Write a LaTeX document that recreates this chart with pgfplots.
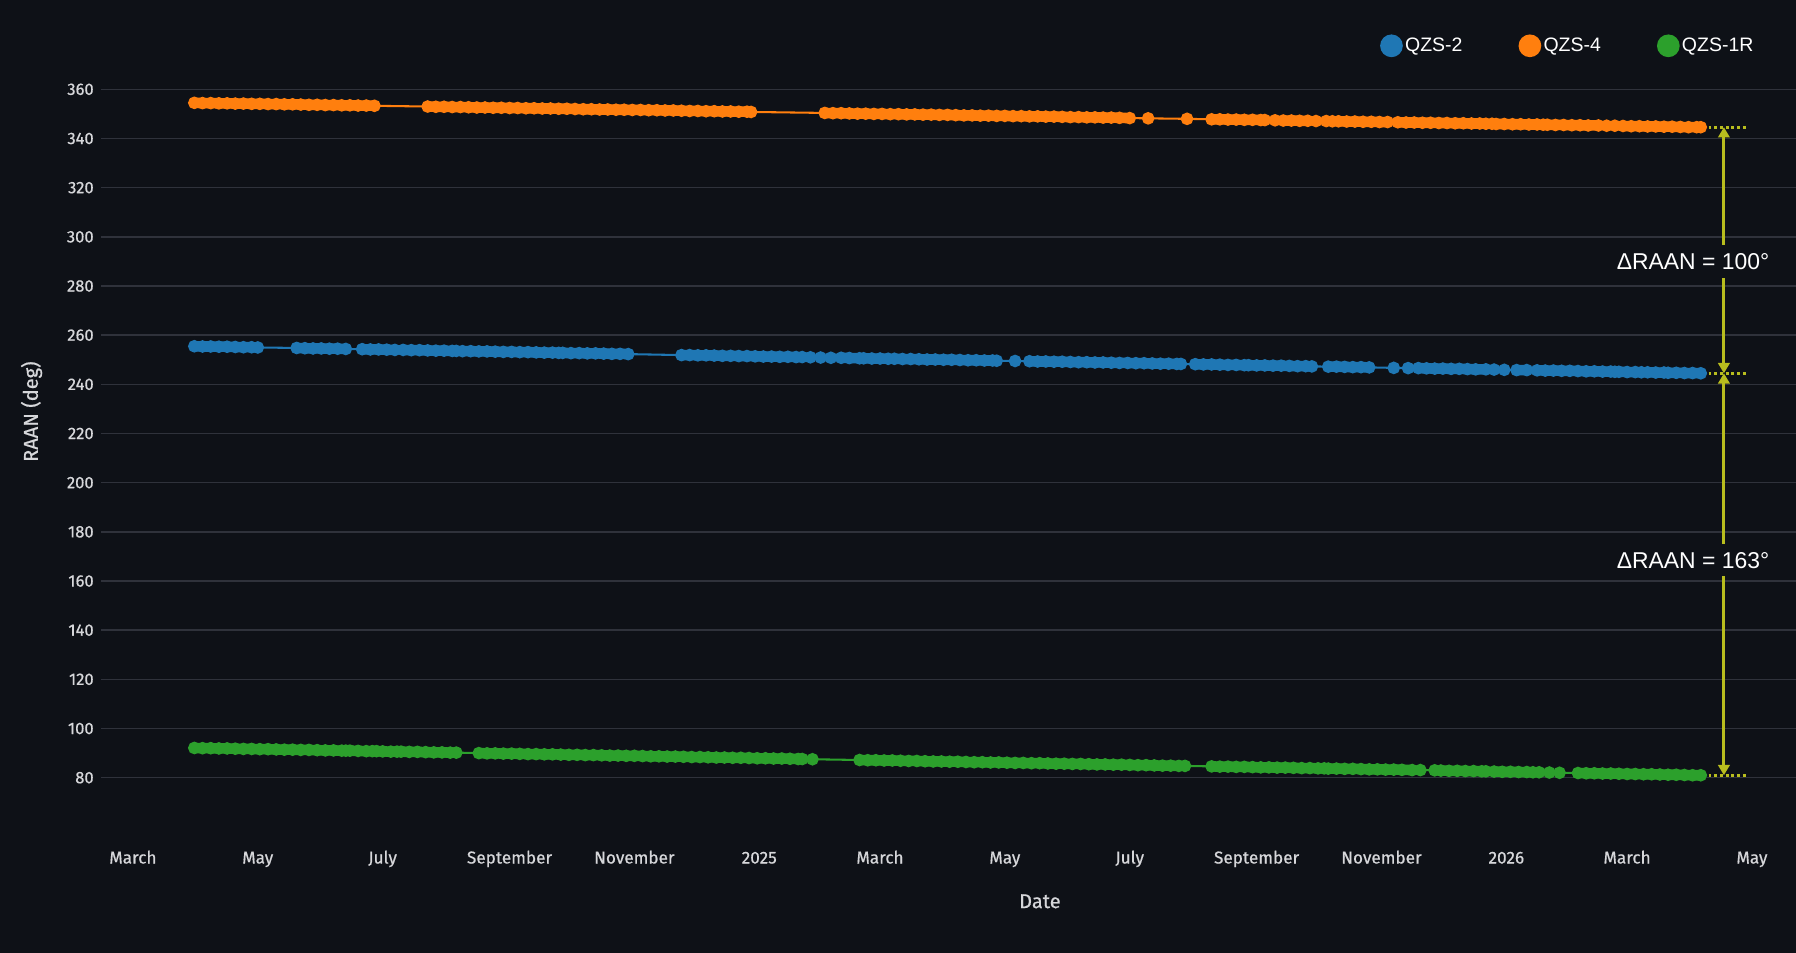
\documentclass[border=0pt]{standalone}
\usepackage{fontspec}
\setmainfont{Liberation Sans}
\newfontfamily\tickfont[FakeBold=0.6]{Fira Sans}
\usepackage{pgfplots}
\usepackage{pgfplotstable}
\pgfplotsset{compat=1.18}
\usetikzlibrary{arrows.meta}
\definecolor{bg}{HTML}{0E1117}
\definecolor{gridc}{HTML}{2F323B}
\definecolor{tickc}{HTML}{D6D7DA}
\definecolor{qblue}{HTML}{1F77B4}
\definecolor{qorange}{HTML}{FF7F0E}
\definecolor{qgreen}{HTML}{2CA02C}
\definecolor{annot}{HTML}{B8BD1E}
% day = days since 2024-03-01 ; v = RAAN (deg) ; "nan nan" = gap in the data
\pgfplotstableread{
d v
30 255.5
34 255.4
38 255.4
42 255.3
46 255.3
50 255.2
54 255.1
58 255.1
61 255.0
nan nan
80 254.8
84 254.7
88 254.6
92 254.6
96 254.5
100 254.5
104 254.4
nan nan
112 254.3
116 254.2
120 254.2
124 254.1
128 254.0
nan nan
132 254.0
136 253.9
140 253.9
144 253.8
148 253.7
152 253.7
156 253.6
158 253.6
nan nan
161 253.5
165 253.5
169 253.4
173 253.4
177 253.3
181 253.2
185 253.2
189 253.1
193 253.1
197 253.0
201 252.9
205 252.9
208 252.8
nan nan
210 252.8
214 252.7
218 252.7
222 252.6
226 252.6
230 252.5
234 252.4
238 252.4
242 252.3
nan nan
268 251.9
272 251.9
276 251.8
280 251.8
284 251.7
288 251.6
292 251.6
296 251.5
300 251.5
304 251.4
308 251.3
312 251.3
316 251.2
320 251.2
324 251.1
327 251.1
nan nan
331 251.0
nan nan
336 250.9
nan nan
341 250.8
nan nan
346 250.8
350 250.7
355 250.6
nan nan
357 250.6
361 250.5
365 250.5
369 250.4
nan nan
372 250.4
376 250.3
380 250.3
384 250.2
388 250.1
392 250.1
396 250.0
400 250.0
404 249.9
408 249.8
412 249.8
416 249.7
420 249.7
422 249.6
nan nan
431 249.5
nan nan
438 249.4
442 249.3
446 249.3
450 249.2
454 249.2
458 249.1
462 249.0
466 249.0
470 248.9
474 248.9
478 248.8
482 248.7
486 248.7
490 248.6
494 248.6
498 248.5
502 248.4
506 248.4
510 248.3
512 248.3
nan nan
519 248.2
523 248.1
527 248.1
531 248.0
535 247.9
539 247.9
543 247.8
nan nan
545 247.8
549 247.7
553 247.7
557 247.6
561 247.6
565 247.5
569 247.4
573 247.4
576 247.3
nan nan
584 247.2
588 247.2
592 247.1
596 247.0
600 247.0
604 246.9
nan nan
616 246.7
nan nan
623 246.6
nan nan
628 246.6
632 246.5
636 246.4
640 246.4
644 246.3
648 246.3
652 246.2
656 246.1
661 246.1
nan nan
665 246.0
nan nan
670 245.9
nan nan
676 245.8
681 245.8
nan nan
686 245.7
690 245.6
694 245.6
698 245.5
702 245.5
706 245.4
710 245.3
714 245.3
718 245.2
722 245.2
724 245.1
nan nan
726 245.1
730 245.0
734 245.0
737 244.9
nan nan
740 244.9
744 244.8
748 244.8
nan nan
750 244.7
754 244.7
758 244.6
762 244.6
766 244.5
}\qzstwo
\pgfplotstableread{
d v
30 354.5
34 354.4
38 354.4
42 354.3
46 354.3
50 354.2
54 354.2
58 354.1
62 354.1
66 354.0
70 354.0
74 353.9
78 353.9
82 353.8
86 353.7
90 353.7
94 353.6
98 353.6
102 353.5
106 353.5
110 353.4
114 353.4
118 353.3
nan nan
144 353.0
148 352.9
152 352.9
156 352.8
160 352.8
164 352.7
168 352.6
172 352.6
176 352.5
180 352.5
184 352.4
188 352.4
192 352.3
196 352.3
200 352.2
204 352.2
208 352.1
212 352.1
216 352.0
220 351.9
224 351.9
228 351.8
232 351.8
236 351.7
240 351.7
244 351.6
248 351.6
252 351.5
256 351.5
260 351.4
264 351.4
268 351.3
272 351.2
276 351.2
280 351.1
284 351.1
288 351.0
292 351.0
296 350.9
300 350.9
302 350.8
nan nan
338 350.4
342 350.3
346 350.3
350 350.2
354 350.1
358 350.1
362 350.0
366 350.0
370 349.9
374 349.9
378 349.8
382 349.8
386 349.7
390 349.7
394 349.6
398 349.6
402 349.5
406 349.4
410 349.4
414 349.3
418 349.3
422 349.2
426 349.2
430 349.1
434 349.1
438 349.0
442 349.0
446 348.9
450 348.9
454 348.8
458 348.7
462 348.7
466 348.6
470 348.6
474 348.5
478 348.5
482 348.4
487 348.3
nan nan
496 348.2
nan nan
515 348.0
nan nan
527 347.8
531 347.8
535 347.7
539 347.7
543 347.6
547 347.6
551 347.5
553 347.5
nan nan
558 347.4
nan nan
562 347.3
566 347.3
570 347.2
574 347.2
nan nan
578 347.1
nan nan
583 347.1
nan nan
586 347.0
nan nan
589 347.0
593 346.9
597 346.9
601 346.8
605 346.8
609 346.7
613 346.7
nan nan
618 346.6
622 346.5
626 346.5
630 346.4
634 346.4
638 346.3
642 346.3
646 346.2
650 346.2
654 346.1
658 346.1
661 346.0
nan nan
664 346.0
nan nan
666 345.9
670 345.9
674 345.8
678 345.8
682 345.7
686 345.7
nan nan
689 345.6
nan nan
691 345.6
695 345.5
699 345.5
703 345.4
707 345.4
711 345.3
716 345.3
nan nan
720 345.2
nan nan
724 345.2
nan nan
728 345.1
732 345.0
736 345.0
740 344.9
744 344.9
748 344.8
752 344.8
756 344.7
760 344.6
764 344.6
766 344.6
}\qzsfour
\pgfplotstableread{
d v
30 92.1
34 92.0
38 92.0
42 91.9
46 91.9
50 91.8
54 91.7
58 91.7
62 91.6
66 91.6
70 91.5
74 91.4
78 91.4
82 91.3
86 91.3
90 91.2
94 91.1
98 91.1
102 91.0
104 91.0
nan nan
106 91.0
110 90.9
114 90.8
117 90.8
nan nan
119 90.8
122 90.7
126 90.6
129 90.6
nan nan
131 90.6
135 90.5
139 90.5
143 90.4
147 90.3
151 90.3
155 90.2
158 90.2
nan nan
169 90.0
173 89.9
177 89.9
181 89.8
185 89.8
189 89.7
193 89.6
197 89.6
201 89.5
205 89.5
209 89.4
213 89.3
217 89.3
221 89.2
225 89.2
229 89.1
233 89.0
237 89.0
241 88.9
245 88.9
249 88.8
253 88.7
257 88.7
261 88.6
265 88.6
269 88.5
273 88.4
277 88.4
281 88.3
285 88.2
289 88.2
293 88.1
297 88.1
301 88.0
305 87.9
309 87.9
313 87.8
317 87.8
321 87.7
325 87.6
327 87.6
nan nan
332 87.5
nan nan
355 87.2
359 87.1
363 87.1
367 87.0
371 87.0
375 86.9
379 86.8
383 86.8
387 86.7
391 86.6
395 86.6
399 86.5
403 86.5
407 86.4
411 86.3
415 86.3
419 86.2
423 86.2
427 86.1
431 86.0
435 86.0
439 85.9
443 85.9
447 85.8
451 85.7
455 85.7
459 85.6
463 85.6
467 85.5
471 85.4
475 85.4
479 85.3
483 85.3
487 85.2
491 85.1
495 85.1
499 85.0
503 84.9
507 84.9
511 84.8
514 84.8
nan nan
527 84.6
531 84.5
535 84.5
539 84.4
543 84.4
547 84.3
551 84.2
555 84.2
559 84.1
563 84.1
567 84.0
571 83.9
575 83.9
579 83.8
582 83.8
nan nan
584 83.7
588 83.7
592 83.6
596 83.6
600 83.5
604 83.4
608 83.4
612 83.3
616 83.3
620 83.2
625 83.1
nan nan
629 83.1
nan nan
636 83.0
nan nan
639 82.9
643 82.8
647 82.8
651 82.7
655 82.7
659 82.6
661 82.6
nan nan
665 82.5
669 82.4
673 82.4
677 82.3
681 82.3
684 82.2
nan nan
687 82.2
nan nan
692 82.1
nan nan
697 82.0
nan nan
706 81.9
710 81.8
714 81.8
718 81.7
722 81.7
726 81.6
730 81.5
734 81.5
738 81.4
742 81.4
746 81.3
750 81.2
754 81.2
758 81.1
762 81.0
766 81.0
}\qzsonr
\pgfplotsset{
  band/.style={#1, line width=9.2pt, line cap=round, line join=round, no marks, unbounded coords=jump, forget plot},
  pts/.style={#1, line width=1.8pt, mark=*, mark size=4.6pt, mark options={solid, draw=none, fill=#1},
    unbounded coords=discard, legend image code/.code={\fill[#1] (0pt,0pt) circle (9pt);}},
}
\begin{document}
\begin{tikzpicture}
\fill[bg] (0,0) rectangle (1568pt,832pt);
\begin{axis}[
  at={(88pt,110.1pt)}, anchor=south west,
  width=1480pt, height=643.9pt, scale only axis,
  xmin=-15.7, xmax=812.5, ymin=60, ymax=360,
  axis line style={draw=none},
  major tick length=0pt,
  ymajorgrids, grid style={gridc, line width=1.3pt},
  ytick={80,100,...,360},
  xtick={0,61,122,184,245,306,365,426,487,549,610,671,730,791},
  xticklabels={March,May,July,September,November,2025,March,May,July,September,November,2026,March,May},
  ticklabel style={font=\tickfont\fontsize{15}{18}\selectfont, text=tickc},
  /pgf/number format/assume math mode=true,
  yticklabel style={anchor=east, inner sep=0pt, xshift=-6pt, font=\tickfont\fontsize{14.5}{18}\selectfont},
  xticklabel style={anchor=base, inner sep=0pt, yshift=-32pt},
  xlabel={Date}, ylabel={RAAN (deg)},
  xlabel style={at={([yshift=-65pt]axis description cs:0.554,0)}, anchor=center, font=\tickfont\fontsize{17.5}{20}\selectfont, text=tickc},
  ylabel style={at={([xshift=-60.5pt]axis description cs:0,0.563)}, anchor=center, font=\tickfont\fontsize{17.5}{20}\selectfont, text=tickc},
  legend style={at={(0.9784,1)}, anchor=east, yshift=38pt, draw=none, fill=none, text=white,
    font=\fontsize{17}{20}\selectfont, /tikz/every even column/.append style={column sep=47pt}},
  legend columns=3,
  legend cell align=left,
]
\addplot[band=qblue] table[x=d, y=v] {\qzstwo};
\addplot[pts=qblue] table[x=d, y=v] {\qzstwo};
\addlegendentry{QZS-2}
\addplot[band=qorange] table[x=d, y=v] {\qzsfour};
\addplot[pts=qorange] table[x=d, y=v] {\qzsfour};
\addlegendentry{QZS-4}
\addplot[band=qgreen] table[x=d, y=v] {\qzsonr};
\addplot[pts=qgreen] table[x=d, y=v] {\qzsonr};
\addlegendentry{QZS-1R}
% annotations
\addplot[annot, line width=2.5pt, dash pattern=on 2.5pt off 2.5pt, forget plot] coordinates {(767,344.6)(788,344.6)};
\addplot[annot, line width=2.5pt, dash pattern=on 2.5pt off 2.5pt, forget plot] coordinates {(767,244.5)(788,244.5)};
\addplot[annot, line width=2.5pt, dash pattern=on 2.5pt off 2.5pt, forget plot] coordinates {(767,81.0)(788,81.0)};
\addplot[annot, line width=2.6pt, {Triangle[width=10pt,length=9pt]}-{Triangle[width=10pt,length=9pt]}, forget plot] coordinates {(777.3,244.5)(777.3,344.6)};
\addplot[annot, line width=2.6pt, {Triangle[width=10pt,length=9pt]}-{Triangle[width=10pt,length=9pt]}, forget plot] coordinates {(777.3,81.0)(777.3,244.5)};
\node[fill=bg, text=white, inner xsep=1pt, inner ysep=7pt, font=\fontsize{20}{24}\selectfont] at (axis cs:762.2,290) {ΔRAAN = 100°};
\node[fill=bg, text=white, inner xsep=1pt, inner ysep=7pt, font=\fontsize{20}{24}\selectfont] at (axis cs:762.2,168.5) {ΔRAAN = 163°};
\end{axis}
\pgfresetboundingbox
\path[use as bounding box] (0,0) rectangle (1568pt,832pt);
\end{tikzpicture}
\end{document}
